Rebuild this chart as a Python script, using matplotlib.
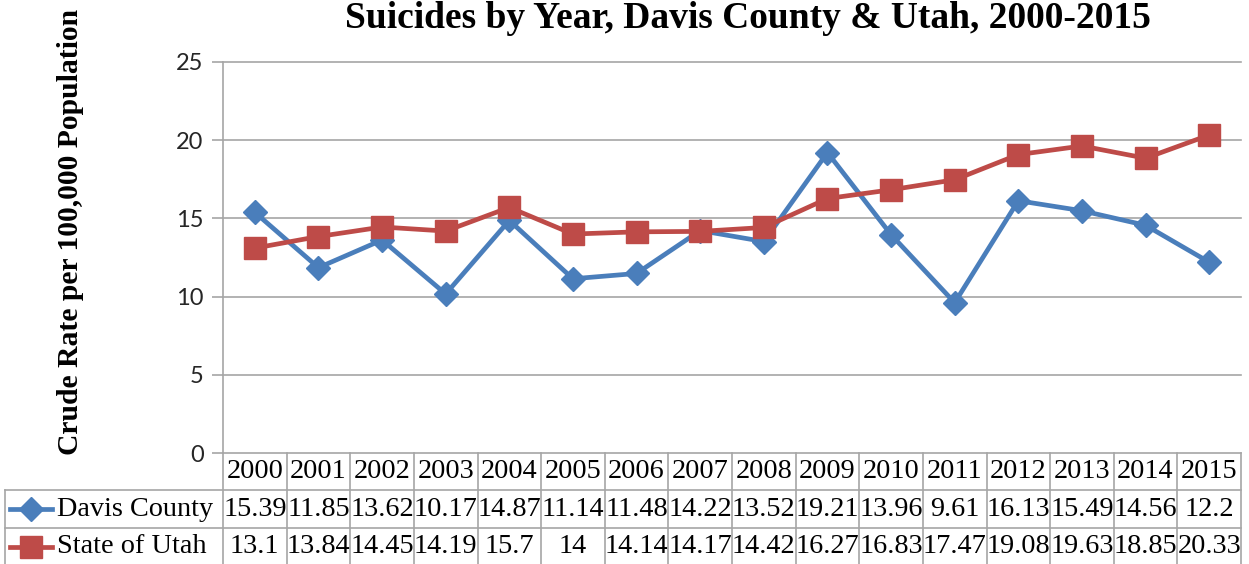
import numpy as np
import matplotlib.pyplot as plt
from matplotlib.transforms import blended_transform_factory

years = ['2000', '2001', '2002', '2003', '2004', '2005', '2006', '2007',
         '2008', '2009', '2010', '2011', '2012', '2013', '2014', '2015']
davis_labels = ['15.39', '11.85', '13.62', '10.17', '14.87', '11.14', '11.48', '14.22',
                '13.52', '19.21', '13.96', '9.61', '16.13', '15.49', '14.56', '12.2']
utah_labels = ['13.1', '13.84', '14.45', '14.19', '15.7', '14', '14.14', '14.17',
               '14.42', '16.27', '16.83', '17.47', '19.08', '19.63', '18.85', '20.33']
davis = [float(v) for v in davis_labels]
utah = [float(v) for v in utah_labels]
y_ticks = [0, 5, 10, 15, 20, 25]

BLUE = '#4A7EBB'
RED = '#BE4B48'
GRID = '#A6A6A6'
W, H = 1249, 564

fig = plt.figure(figsize=(W / 100, H / 100), dpi=100)
# plot area in pixels: left 223, right 1241, top 62, bottom 453
ax = fig.add_axes([223 / W, (H - 453) / H, (1241 - 223) / W, (453 - 62) / H])
ax_h = 453 - 62

x = np.arange(len(years))
ax.plot(x, davis, color=BLUE, lw=3.4, marker='D', ms=12, zorder=3)
ax.plot(x, utah, color=RED, lw=3.4, marker='s', ms=15.5, zorder=3)

ax.set_xlim(-0.5, len(years) - 0.5)
ax.set_ylim(0, 25)
ax.set_yticks(y_ticks)
ax.set_xticks([])
for t in y_ticks:
    ax.axhline(t, color=GRID, lw=1.2, zorder=1, clip_on=False)
for s in ['top', 'right', 'bottom']:
    ax.spines[s].set_visible(False)
ax.spines['left'].set_color(GRID)
ax.spines['left'].set_linewidth(1.2)
ax.tick_params(axis='y', length=8, width=1.2, color=GRID, pad=6,
               labelsize=17, labelcolor='#262626')
for lab in ax.get_yticklabels():
    lab.set_fontfamily('Lato')

fig.text(748 / W, 1 - 18 / H, 'Suicides by Year, Davis County & Utah, 2000-2015',
         ha='center', va='center', fontfamily='Liberation Serif', fontweight='bold', fontsize=27)
fig.text(71 / W, 1 - 232 / H, 'Crude Rate per 100,000 Population', rotation=90,
         ha='center', va='center', fontfamily='Liberation Serif', fontweight='bold', fontsize=21.3)

# data table under the plot
tr = blended_transform_factory(ax.transData, ax.transAxes)
row_edges = [0, -37 / ax_h, -75 / ax_h, -112 / ax_h]
lab_left = (5 - 223) / (1241 - 223)
line_kw = dict(color=GRID, lw=1.2, clip_on=False)

for i in range(len(years) + 1):
    ax.plot([i - 0.5, i - 0.5], [row_edges[0], row_edges[3]], transform=tr, **line_kw)
ax.plot([lab_left, lab_left], [row_edges[1], row_edges[3]], transform=ax.transAxes, **line_kw)
for r in row_edges[1:3]:
    ax.plot([lab_left, 1], [r, r], transform=ax.transAxes, **line_kw)

txt_kw = dict(fontfamily='Liberation Serif', fontsize=20.3, ha='center', va='center', clip_on=False)
rows = [years, davis_labels, utah_labels]
for r, vals in enumerate(rows):
    yc = (row_edges[r] + row_edges[r + 1]) / 2
    for i, v in enumerate(vals):
        ax.text(i, yc, v, transform=tr, **txt_kw)

# row labels with legend keys
px = lambda p: (p - 223) / (1241 - 223)
for r, (name, col, mk, ms) in enumerate([('Davis County', BLUE, 'D', 12),
                                         ('State of Utah', RED, 's', 15.5)], start=1):
    yc = (row_edges[r] + row_edges[r + 1]) / 2
    ax.plot([px(10), px(52)], [yc, yc], color=col, lw=3.4, transform=ax.transAxes, clip_on=False)
    ax.plot([px(31)], [yc], color=col, marker=mk, ms=ms, transform=ax.transAxes, clip_on=False)
    ax.text(px(57), yc, name, transform=ax.transAxes, fontfamily='Liberation Serif',
            fontsize=20.3, ha='left', va='center', clip_on=False)

fig.savefig('out.png', dpi=100)
